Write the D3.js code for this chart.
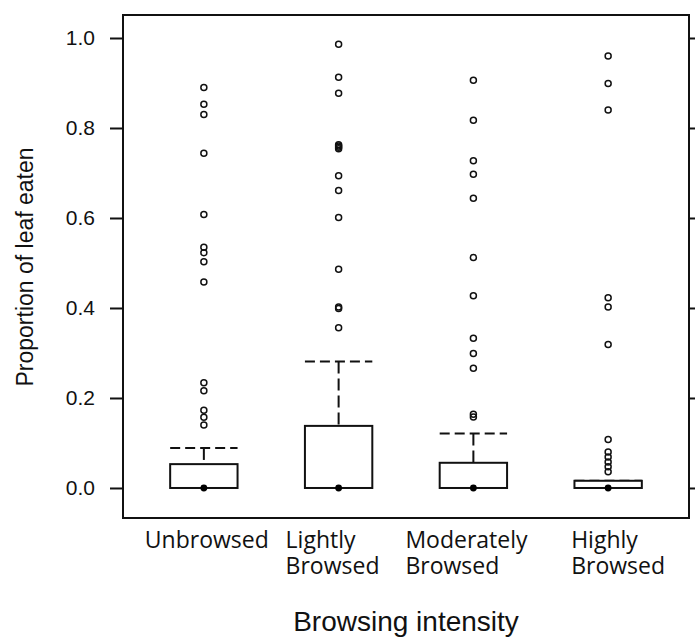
<!DOCTYPE html>
<html>
    <head>
        <title>Proportion of leaf eaten by browsing intensity</title>
        <script src="https://d3js.org/d3.v7.min.js"></script>
        <style>
            body {
                margin: 0;
                background: #fff;
            }
            svg {
                display: block;
            }
            .tick text {
                font-family: 'Liberation Sans', Arial, sans-serif;
                font-size: 21px;
                fill: #111;
            }
            .cat {
                font-family: 'Open Sans', sans-serif;
                font-size: 23px;
                fill: #111;
            }
            .title {
                font-family: 'Liberation Sans', Arial, sans-serif;
                fill: #111;
            }
        </style>
    </head>
    <body>
        <script>
            // categories
            const categories = ['Unbrowsed', 'Lightly Browsed', 'Moderately Browsed', 'Highly Browsed'];
            const labelLines = [['Unbrowsed'], ['Lightly', 'Browsed'], ['Moderately', 'Browsed'], ['Highly', 'Browsed']];

            // box stats
            const q1 = [0, 0, 0, 0];
            const medians = [0, 0, 0, 0];
            const q3 = [0.053, 0.138, 0.056, 0.016];
            const whiskerHigh = [0.089, 0.281, 0.121, 0.016];

            // outliers
            const outUnbrowsed = [0.89, 0.853, 0.83, 0.744, 0.608, 0.535, 0.523, 0.503, 0.458, 0.234, 0.216, 0.173, 0.157, 0.14];
            const outLightly = [0.986, 0.913, 0.877, 0.763, 0.76, 0.757, 0.754, 0.694, 0.661, 0.601, 0.486, 0.402, 0.399, 0.356];
            const outModerately = [0.906, 0.817, 0.727, 0.697, 0.644, 0.512, 0.427, 0.333, 0.299, 0.266, 0.164, 0.158];
            const outHighly = [0.96, 0.899, 0.84, 0.423, 0.402, 0.319, 0.108, 0.08, 0.069, 0.058, 0.047, 0.036];
            const outliers = [outUnbrowsed, outLightly, outModerately, outHighly];

            const yTicks = [0, 0.2, 0.4, 0.6, 0.8, 1.0];

            const width = 695;
            const height = 637;
            const margin = { left: 123, right: 6, top: 15, bottom: 119 };
            // left edge of each category label, relative to its box centre
            const labelDx = [-59, -53, -68, -37];

            const svg = d3.select('body').append('svg').attr('width', width).attr('height', height);

            const x = d3.scaleLinear().domain([0.4, 4.6]).range([margin.left, width - margin.right]);
            const y = d3.scaleLinear().domain([-0.0667, 1.0511]).range([height - margin.bottom, margin.top]);
            const boxW = x(1.25) - x(0.75);

            svg.append('g')
                .attr('transform', `translate(${margin.left},0)`)
                .call(d3.axisLeft(y).tickValues(yTicks).tickFormat(d3.format('.1f')).tickSize(13).tickPadding(15))
                .call((g) => g.select('.domain').remove())
                .call((g) => g.selectAll('.tick line').attr('stroke', '#111').attr('stroke-width', 2));

            svg.append('g')
                .attr('transform', `translate(${width - margin.right},0)`)
                .call(d3.axisRight(y).tickValues(yTicks).tickFormat('').tickSize(13))
                .call((g) => g.select('.domain').remove())
                .call((g) => g.selectAll('.tick line').attr('stroke', '#111').attr('stroke-width', 2));

            svg.append('rect')
                .attr('x', margin.left)
                .attr('y', margin.top)
                .attr('width', width - margin.right - margin.left)
                .attr('height', height - margin.bottom - margin.top)
                .attr('fill', 'none')
                .attr('stroke', '#111')
                .attr('stroke-width', 2);

            const groups = svg
                .append('g')
                .selectAll('g')
                .data(categories)
                .join('g')
                .attr('transform', (d, i) => `translate(${x(i + 1)},0)`);

            // whisker + staple
            groups
                .filter((d, i) => whiskerHigh[i] > q3[i])
                .append('line')
                .attr('x1', 0)
                .attr('x2', 0)
                .attr('y1', (d) => y(whiskerHigh[categories.indexOf(d)]))
                .attr('y2', (d) => y(q3[categories.indexOf(d)]))
                .attr('stroke', '#111')
                .attr('stroke-width', 2)
                .attr('stroke-dasharray', '12,5');

            groups
                .append('line')
                .attr('x1', -boxW / 2)
                .attr('x2', boxW / 2)
                .attr('y1', (d, i) => y(whiskerHigh[i]))
                .attr('y2', (d, i) => y(whiskerHigh[i]))
                .attr('stroke', '#111')
                .attr('stroke-width', 2)
                .attr('stroke-dasharray', '10,5');

            groups
                .append('rect')
                .attr('x', -boxW / 2)
                .attr('width', boxW)
                .attr('y', (d, i) => y(q3[i]))
                .attr('height', (d, i) => y(q1[i]) - y(q3[i]))
                .attr('fill', '#fff')
                .attr('stroke', '#111')
                .attr('stroke-width', 2);

            groups
                .append('circle')
                .attr('cx', 0)
                .attr('cy', (d, i) => y(medians[i]))
                .attr('r', 3.4)
                .attr('fill', '#000');

            groups
                .selectAll('circle.out')
                .data((d, i) => outliers[i])
                .join('circle')
                .attr('class', 'out')
                .attr('cx', 0)
                .attr('cy', (v) => y(v))
                .attr('r', 3)
                .attr('fill', 'none')
                .attr('stroke', '#111')
                .attr('stroke-width', 1.5);

            // category labels
            svg.append('g')
                .selectAll('text')
                .data(labelLines)
                .join('text')
                .attr('class', 'cat')
                .attr('x', (d, i) => x(i + 1) + labelDx[i])
                .attr('y', 548)
                .selectAll('tspan')
                .data((d) => d)
                .join('tspan')
                .attr('x', function () {
                    return this.parentNode.getAttribute('x');
                })
                .attr('dy', (d, j) => (j === 0 ? 0 : 26))
                .text((d) => d);

            svg.append('text')
                .attr('class', 'title')
                .attr('x', (margin.left + width - margin.right) / 2)
                .attr('y', 631)
                .attr('text-anchor', 'middle')
                .style('font-size', '28px')
                .text('Browsing intensity');

            svg.append('text')
                .attr('class', 'title')
                .attr('transform', `translate(33,${y(0.5) + 4}) rotate(-90)`)
                .attr('text-anchor', 'middle')
                .style('font-size', '23px')
                .text('Proportion of leaf eaten');
        </script>
    </body>
</html>
